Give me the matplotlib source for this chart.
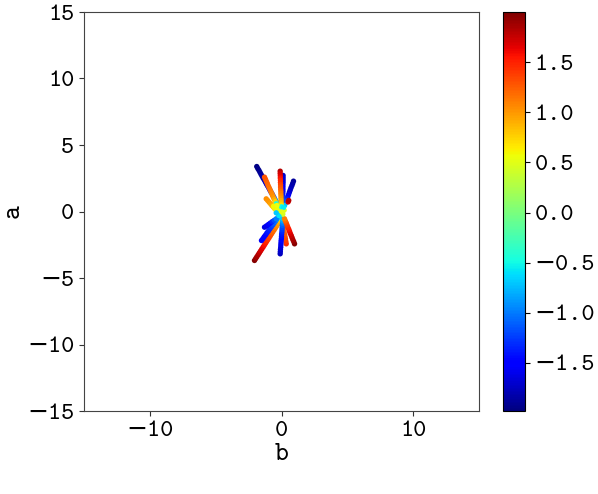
import matplotlib
matplotlib.use("Agg")
import matplotlib.pyplot as plt
import numpy as np

plt.rcParams['font.family'] = ['cmtt10', 'DejaVu Sans']
plt.rcParams['axes.unicode_minus'] = True

# Ray points: b (x), a (y), colour value
ray_A_b = [-1.88, -1.80, -1.71, -1.63, -1.55, -1.47, -1.39, -1.30, -1.22, -1.14, -1.06,
           -0.97, -0.89, -0.81, -0.72, -0.64, -0.56, -0.48, -0.39, -0.31, -0.23]
ray_A_a = [3.38, 3.23, 3.09, 2.94, 2.79, 2.65, 2.50, 2.36, 2.21, 2.06, 1.92,
           1.77, 1.62, 1.48, 1.33, 1.18, 1.04, 0.89, 0.74, 0.60, 0.45]
ray_A_c = [-1.96, -1.94, -1.92, -1.90, -1.88, -1.85, -1.82, -1.79, -1.75, -1.70, -1.65,
           -1.60, -1.52, -1.45, -1.35, -1.25, -1.15, -1.0, -0.85, -0.7, -0.6]

ray_B_b = [-1.29, -1.22, -1.15, -1.08, -1.02, -0.95, -0.88, -0.81, -0.74, -0.67, -0.61, -0.54, -0.47, -0.40]
ray_B_a = [2.58, 2.43, 2.27, 2.12, 1.96, 1.81, 1.66, 1.50, 1.35, 1.19, 1.04, 0.89, 0.73, 0.58]
ray_B_c = [1.30, 1.28, 1.25, 1.22, 1.20, 1.17, 1.14, 1.10, 1.07, 1.04, 1.0, 0.9, 0.75, -0.5]

ray_C_b = [-0.10, -0.10, -0.09, -0.09, -0.08, -0.08, -0.07, -0.07, -0.06,
           -0.05, -0.05, -0.04, -0.04, -0.03, -0.03, -0.02, -0.02]
ray_C_a = [3.03, 2.86, 2.69, 2.52, 2.35, 2.18, 2.01, 1.84, 1.67,
           1.51, 1.34, 1.17, 1.00, 0.83, 0.66, 0.49, 0.32]
ray_C_c = [1.80, 1.72, 1.65, 1.58, 1.50, 1.43, 1.36, 1.30, 1.24,
           1.18, 1.12, 1.06, 1.0, 0.92, 0.83, 0.72, 0.6]

ray_D_b = [0.12, 0.12, 0.12, 0.12, 0.11, 0.11, 0.11, 0.11, 0.10, 0.10, 0.10, 0.10]
ray_D_a = [2.71, 2.54, 2.37, 2.20, 2.03, 1.86, 1.68, 1.51, 1.34, 1.17, 1.00, 0.83]
ray_D_c = [-1.72, -1.70, -1.67, -1.64, -1.60, -1.56, -1.52, -1.47, -1.42, -1.36, -1.28, -1.2]

ray_E_b = [0.91, 0.85, 0.79, 0.72, 0.66, 0.60, 0.54, 0.48, 0.41, 0.35, 0.29, 0.23]
ray_E_a = [2.28, 2.11, 1.95, 1.78, 1.61, 1.45, 1.28, 1.12, 0.95, 0.78, 0.62, 0.45]
ray_E_c = [-1.88, -1.85, -1.82, -1.78, -1.74, -1.68, -1.6, -1.5, -1.38, -1.2, -0.95, -0.7]

ray_K_b = [-1.16, -1.05, -0.94, -0.83, -0.73, -0.62, -0.51, -0.40, 0.50, 0.55]
ray_K_a = [0.95, 0.83, 0.70, 0.58, 0.45, 0.33, 0.20, 0.08, 0.72, 0.83]
ray_K_c = [1.05, 1.02, 1.0, 0.95, 0.9, 0.8, 0.7, 0.6, 1.7, 1.8]

ray_F_b = [-2.05, -1.96, -1.87, -1.77, -1.68, -1.59, -1.50, -1.40, -1.31, -1.22, -1.13, -1.03,
           -0.94, -0.85, -0.76, -0.67, -0.57, -0.48, -0.39, -0.30, -0.20, -0.11, -0.02]
ray_F_a = [-3.68, -3.54, -3.40, -3.25, -3.11, -2.97, -2.83, -2.68, -2.54, -2.40, -2.26, -2.11,
           -1.97, -1.83, -1.69, -1.55, -1.40, -1.26, -1.12, -0.98, -0.83, -0.69, -0.55]
ray_F_c = [1.97, 1.92, 1.87, 1.82, 1.77, 1.72, 1.67, 1.62, 1.57, 1.52, 1.47, 1.42,
           1.37, 1.32, 1.27, 1.22, 1.17, 1.12, 1.06, 1.0, 0.92, 0.82, 0.7]

ray_F2_b = [-1.52, -1.41, -1.31, -1.20, -1.10, -0.99, -0.89, -0.78, -0.67, -0.57, -0.46, -0.36, -0.25, -0.15]
ray_F2_a = [-2.18, -2.04, -1.89, -1.75, -1.60, -1.46, -1.31, -1.17, -1.02, -0.88, -0.73, -0.59, -0.44, -0.30]
ray_F2_c = [-1.55, -1.52, -1.49, -1.46, -1.42, -1.38, -1.33, -1.27, -1.2, -1.12, -1.02, -0.9, -0.78, -0.65]

ray_G_b = [-1.29, -1.14, -0.99, -0.85, -0.70, -0.55, -0.40]
ray_G_a = [-1.18, -1.08, -0.97, -0.87, -0.76, -0.66, -0.55]
ray_G_c = [-1.65, -1.6, -1.52, -1.44, -1.32, -1.18, -1.0]

ray_H_b = [-0.10, -0.09, -0.08, -0.06, -0.05, -0.04, -0.03, -0.01, 0.00,
           0.01, 0.03, 0.04, 0.05, 0.06, 0.08, 0.09, 0.10]
ray_H_a = [-3.18, -3.02, -2.85, -2.69, -2.52, -2.36, -2.19, -2.03, -1.87,
           -1.70, -1.54, -1.37, -1.21, -1.04, -0.88, -0.71, -0.55]
ray_H_c = [-1.75, -1.72, -1.69, -1.66, -1.62, -1.58, -1.54, -1.5, -1.45,
           -1.4, -1.34, -1.28, -1.2, -1.1, -1.0, -0.85, -0.7]

ray_I_b = [0.99, 0.93, 0.86, 0.80, 0.74, 0.67, 0.61, 0.55, 0.48, 0.42, 0.36, 0.29, 0.23]
ray_I_a = [-2.43, -2.27, -2.12, -1.96, -1.80, -1.65, -1.49, -1.33, -1.18, -1.02, -0.86, -0.71, -0.55]
ray_I_c = [1.97, 1.92, 1.86, 1.8, 1.74, 1.68, 1.62, 1.55, 1.48, 1.4, 1.32, 1.22, 1.1]

ray_J_b = [0.36, 0.33, 0.30, 0.27, 0.24, 0.20, 0.17, 0.14, 0.11, 0.08]
ray_J_a = [-2.43, -2.25, -2.07, -1.90, -1.72, -1.54, -1.36, -1.19, -1.01, -0.83]
ray_J_c = [1.45, 1.4, 1.36, 1.32, 1.28, 1.24, 1.2, 1.15, 1.08, 1.0]

center_b = [-0.5, -0.3, -0.1, 0.1, -0.2, 0.0, 0.2, -0.4, 0.15, -0.6, -0.35, 0.05]
center_a = [0.3, 0.2, 0.0, -0.2, -0.3, 0.35, 0.1, -0.1, 0.3, 0.4, 0.45, -0.05]
center_c = [0.6, 0.55, 0.5, 0.45, -0.6, -0.5, 0.5, -0.7, -0.55, 0.6, 0.55, 0.5]

rays = [
    (ray_A_b, ray_A_a, ray_A_c), (ray_E_b, ray_E_a, ray_E_c), (ray_D_b, ray_D_a, ray_D_c),
    (ray_B_b, ray_B_a, ray_B_c), (ray_C_b, ray_C_a, ray_C_c), (ray_K_b, ray_K_a, ray_K_c),
    (ray_F_b, ray_F_a, ray_F_c), (ray_F2_b, ray_F2_a, ray_F2_c), (ray_G_b, ray_G_a, ray_G_c),
    (ray_J_b, ray_J_a, ray_J_c), (ray_H_b, ray_H_a, ray_H_c), (ray_I_b, ray_I_a, ray_I_c),
    (center_b, center_a, center_c),
]

x_ticks = [-10, 0, 10]
y_ticks = [-15, -10, -5, 0, 5, 10, 15]
cbar_ticks = [-1.5, -1.0, -0.5, 0.0, 0.5, 1.0, 1.5]

fig = plt.figure(figsize=(5.98, 4.94), dpi=100)
W, H = 598, 494
ax = fig.add_axes([84 / W, 1 - 411 / H, (479 - 84) / W, (411 - 12) / H])
cax = fig.add_axes([503 / W, 1 - 411 / H, (525 - 503) / W, (411 - 12) / H])

sc = None
for rb, ra, rc in rays:
    sc = ax.scatter(rb, ra, c=rc, cmap='jet', vmin=-1.98, vmax=2.0,
                    s=15, linewidths=0)
ax.set_xlim(-15, 15)
ax.set_ylim(-15, 15)
ax.set_xticks(x_ticks)
ax.set_yticks(y_ticks)
ax.set_xlabel('b', fontsize=19, labelpad=1)
ax.set_ylabel('a', fontsize=19, labelpad=2)
ax.tick_params(labelsize=18, color='#333333')
for s in ax.spines.values():
    s.set_color('#444444')
    s.set_linewidth(0.8)

cb = fig.colorbar(sc, cax=cax, ticks=cbar_ticks)
cb.ax.tick_params(labelsize=18)
cb.outline.set_linewidth(0.8)

fig.savefig('out.png', dpi=100)
